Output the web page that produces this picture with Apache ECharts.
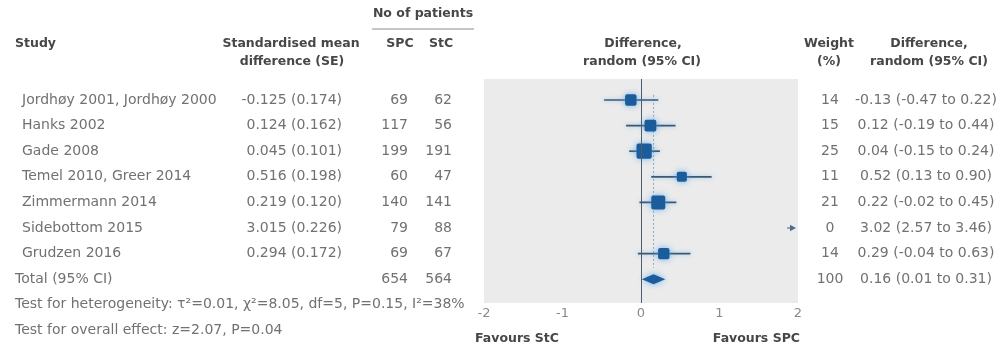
<!DOCTYPE html>
<html><head><meta charset="utf-8">
<script src="https://cdn.jsdelivr.net/npm/echarts@6/dist/echarts.min.js"></script>
<style>html,body{margin:0;padding:0;background:#fff}#c{width:1004px;height:350px}</style>
</head><body><div id="c"></div>
<script>
// ---------------- data ----------------
const studies = ['Jordhøy 2001, Jordhøy 2000','Hanks 2002','Gade 2008','Temel 2010, Greer 2014','Zimmermann 2014','Sidebottom 2015','Grudzen 2016'];
const smd = [-0.125, 0.124, 0.045, 0.516, 0.219, 3.015, 0.294];
const se = [0.174, 0.162, 0.101, 0.198, 0.120, 0.226, 0.172];
const spcN = [69, 117, 199, 60, 140, 79, 69];
const stcN = [62, 56, 191, 47, 141, 88, 67];
const weights = [14, 15, 25, 11, 21, 0, 14];
const diffEst = [-0.13, 0.12, 0.04, 0.52, 0.22, 3.02, 0.29];
const diffLow = [-0.47, -0.19, -0.15, 0.13, -0.02, 2.57, -0.04];
const diffHigh = [0.22, 0.44, 0.24, 0.90, 0.45, 3.46, 0.63];
const totalLabel = 'Total (95% CI)';
const totalN = [654, 564];
const totalWeight = 100;
const totalCI = [0.16, 0.01, 0.31]; // estimate, low, high
const xTicks = [-2, -1, 0, 1, 2];
const heterogeneityText = 'Test for heterogeneity: τ²=0.01, χ²=8.05, df=5, P=0.15, I²=38%';
const overallText = 'Test for overall effect: z=2.07, P=0.04';
const favoursLeft = 'Favours StC';
const favoursRight = 'Favours SPC';

// ---------------- styles ----------------
const FONT = '"DejaVu Sans", sans-serif';
const bodyFont = '14px ' + FONT;
const headFont = 'bold 12.5px ' + FONT;
const bodyColor = '#717171';
const headColor = '#474747';
const nRows = studies.length;

const chart = echarts.init(document.getElementById('c'), null, {renderer: 'canvas'});

function txt(x, y, text, align, font, fill) {
  return {type: 'text', x: x, y: y, style: {text: text, textAlign: align, textVerticalAlign: 'middle', font: font || bodyFont, fill: fill || bodyColor}};
}

function tableItem(params, api) {
  const i = params.dataIndex;
  const row = api.value(1);
  const y = api.coord([0, row])[1];
  const kids = [];
  if (i < nRows) {
    kids.push(txt(22, y, studies[i], 'left'));
    kids.push(txt(342, y, smd[i].toFixed(3) + ' (' + se[i].toFixed(3) + ')', 'right'));
    kids.push(txt(408, y, String(spcN[i]), 'right'));
    kids.push(txt(452, y, String(stcN[i]), 'right'));
    kids.push(txt(830, y, String(weights[i]), 'center'));
    kids.push(txt(926, y, diffEst[i].toFixed(2) + ' (' + diffLow[i].toFixed(2) + ' to ' + diffHigh[i].toFixed(2) + ')', 'center'));
  } else if (i === nRows) {
    kids.push(txt(15, y, totalLabel, 'left'));
    kids.push(txt(408, y, String(totalN[0]), 'right'));
    kids.push(txt(452, y, String(totalN[1]), 'right'));
    kids.push(txt(830, y, String(totalWeight), 'center'));
    kids.push(txt(926, y, totalCI[0].toFixed(2) + ' (' + totalCI[1].toFixed(2) + ' to ' + totalCI[2].toFixed(2) + ')', 'center'));
  } else if (i === nRows + 1) {
    kids.push(txt(15, y, heterogeneityText, 'left'));
  } else {
    kids.push(txt(15, y, overallText, 'left'));
  }
  return {type: 'group', children: kids};
}

function forestItem(params, api) {
  const est = api.value(0), row = api.value(1), lo = api.value(2), hi = api.value(3), w = api.value(4);
  const cs = params.coordSys;
  const left = cs.x, right = cs.x + cs.width;
  const y = api.coord([0, row])[1];
  const xLo = api.coord([lo, row])[0], xHi = api.coord([hi, row])[0], xE = api.coord([est, row])[0];
  if (xLo > right) {
    return {type: 'group', children: [
      {type: 'line', shape: {x1: right - 11, y1: y, x2: right - 4, y2: y}, style: {stroke: '#5b7793', lineWidth: 1.2}},
      {type: 'polygon', shape: {points: [[right - 2, y], [right - 8, y - 3.2], [right - 8, y + 3.2]]}, style: {fill: '#4f6d8c'}}
    ]};
  }
  const s = 3.05 * Math.sqrt(w);
  return {type: 'group', children: [
    {type: 'line', shape: {x1: Math.max(left, xLo), y1: y, x2: Math.min(right, xHi), y2: y},
      style: {stroke: '#3d5872', lineWidth: 1.7, shadowBlur: 4, shadowColor: 'rgba(110,180,235,0.7)'}},
    {type: 'rect', shape: {x: xE - s / 2, y: y - s / 2, width: s, height: s, r: 2},
      style: {fill: '#1b5d9b', shadowBlur: 6, shadowColor: 'rgba(80,165,240,0.8)'}}
  ]};
}

function diamondItem(params, api) {
  const est = api.value(0), row = api.value(1), lo = api.value(2), hi = api.value(3);
  const y = api.coord([0, row])[1];
  const xE = api.coord([est, row])[0], xLo = api.coord([lo, row])[0], xHi = api.coord([hi, row])[0];
  return {type: 'polygon', shape: {points: [[xLo, y], [xE, y - 5], [xHi, y], [xE, y + 5]]},
    style: {fill: '#1b5d9b', shadowBlur: 6, shadowColor: 'rgba(80,165,240,0.8)'}};
}

const forestData = studies.map((s, i) => [diffEst[i], i, diffLow[i], diffHigh[i], weights[i]]);
const tableData = [];
for (let r = 0; r < nRows + 3; r++) tableData.push([0, r]);

const option = {
  backgroundColor: '#ffffff',
  animation: false,
  grid: {left: 484, right: 206, top: 79, bottom: 47, show: true, backgroundColor: '#ebebeb', borderWidth: 0},
  xAxis: {
    type: 'value', min: xTicks[0], max: xTicks[xTicks.length - 1], interval: 1,
    axisLine: {show: false}, axisTick: {show: false}, splitLine: {show: false},
    axisLabel: {color: '#8a8a8a', fontSize: 13, fontFamily: FONT, margin: 4, showMinLabel: true, showMaxLabel: true}
  },
  yAxis: {type: 'value', inverse: true, min: -0.82, max: 7.93, show: false, splitLine: {show: false}},
  graphic: [
    txt(423, 14, 'No of patients', 'center', headFont, headColor),
    {type: 'line', shape: {x1: 372, y1: 29, x2: 474, y2: 29}, style: {stroke: '#8c8c8c', lineWidth: 1}},
    txt(15, 44, 'Study', 'left', headFont, headColor),
    txt(291, 44, 'Standardised mean', 'center', headFont, headColor),
    txt(292, 62, 'difference (SE)', 'center', headFont, headColor),
    txt(400, 44, 'SPC', 'center', headFont, headColor),
    txt(441, 44, 'StC', 'center', headFont, headColor),
    txt(643, 44, 'Difference,', 'center', headFont, headColor),
    txt(642, 62, 'random (95% CI)', 'center', headFont, headColor),
    txt(829, 44, 'Weight', 'center', headFont, headColor),
    txt(829, 62, '(%)', 'center', headFont, headColor),
    txt(929, 44, 'Difference,', 'center', headFont, headColor),
    txt(929, 62, 'random (95% CI)', 'center', headFont, headColor),
    txt(475, 339, favoursLeft, 'left', headFont, headColor),
    txt(800, 339, favoursRight, 'right', headFont, headColor)
  ],
  series: [
    {
      type: 'line', data: [[totalCI[0], -0.2], [totalCI[0], nRows - 0.45]], showSymbol: false, silent: true,
      lineStyle: {type: [2, 2], color: '#8ea6bf', width: 1}, z: 2
    },
    {
      type: 'custom', renderItem: forestItem, data: forestData, clip: false, z: 4,
      encode: {x: 0, y: 1},
      markLine: {silent: true, symbol: 'none', label: {show: false}, animation: false,
        lineStyle: {color: '#4e5e6e', width: 1, type: 'solid'}, data: [{xAxis: 0}]}
    },
    {type: 'custom', renderItem: diamondItem, data: [[totalCI[0], nRows, totalCI[1], totalCI[2]]], clip: false, z: 4, encode: {x: 0, y: 1}},
    {type: 'custom', renderItem: tableItem, data: tableData, clip: false, z: 5, encode: {x: 0, y: 1}}
  ]
};
chart.setOption(option);
</script></body></html>
